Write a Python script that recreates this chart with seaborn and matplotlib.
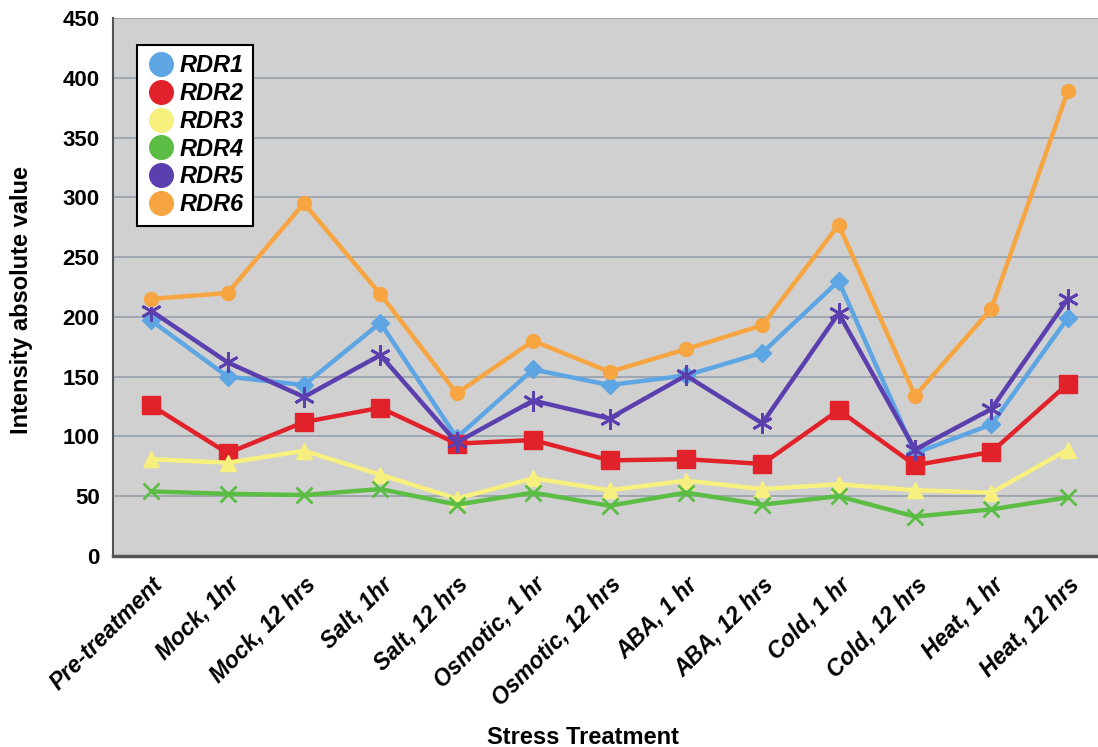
import numpy as np
import pandas as pd
import matplotlib
matplotlib.use("Agg")
import matplotlib.pyplot as plt
from matplotlib.lines import Line2D
import seaborn as sns

sns.set_style("white")
plt.rcParams['font.family'] = ['Liberation Sans', 'DejaVu Sans']
plt.rcParams['text.color'] = 'black'
plt.rcParams['axes.labelcolor'] = 'black'
plt.rcParams['xtick.color'] = 'black'
plt.rcParams['ytick.color'] = 'black'

# Data
treatments = ["Pre-treatment", "Mock, 1hr", "Mock, 12 hrs", "Salt, 1hr", "Salt, 12 hrs",
              "Osmotic, 1 hr", "Osmotic, 12 hrs", "ABA, 1 hr", "ABA, 12 hrs",
              "Cold, 1 hr", "Cold, 12 hrs", "Heat, 1 hr", "Heat, 12 hrs"]
rdr1 = [197, 150, 143, 195, 99, 156, 143, 151, 170, 230, 86, 110, 199]
rdr2 = [126, 86, 112, 124, 94, 97, 80, 81, 77, 122, 76, 87, 144]
rdr3 = [81, 78, 88, 68, 48, 65, 55, 63, 56, 60, 55, 53, 89]
rdr4 = [54, 52, 51, 56, 43, 53, 42, 53, 43, 50, 33, 39, 49]
rdr5 = [205, 162, 133, 168, 95, 130, 115, 151, 111, 203, 89, 123, 215]
rdr6 = [215, 220, 295, 219, 136, 180, 154, 173, 193, 277, 134, 207, 389]

genes = ["RDR1", "RDR2", "RDR3", "RDR4", "RDR5", "RDR6"]
values = [rdr1, rdr2, rdr3, rdr4, rdr5, rdr6]
colors = ["#5da5e3", "#e2222a", "#f7f07e", "#5cbd45", "#5b3fae", "#f7a541"]
markers = ["D", "s", "^", "x", (6, 2, 0), "o"]
msizes = [9, 13, 11, 11, 15, 10]

df = pd.DataFrame({
    "x": np.tile(np.arange(len(treatments)), len(genes)),
    "value": np.concatenate(values),
    "gene": np.repeat(genes, len(treatments)),
})

fig = plt.figure(figsize=(10.98, 7.47), dpi=100)
ax = fig.add_axes([113 / 1098, 1 - 556 / 747, (1106 - 113) / 1098, (556 - 18) / 747])
ax.set_facecolor("#d0d0d0")

for g, c, m, ms in zip(genes, colors, markers, msizes):
    sub = df[df["gene"] == g]
    sns.lineplot(data=sub, x="x", y="value", ax=ax, color=c, lw=3.2,
                 marker=m, markersize=ms, markeredgecolor=c, markerfacecolor=c,
                 mew=2 if m in ("x", (6, 2, 0)) else 1, legend=False)

ax.set_xlim(-0.5, len(treatments) - 0.5)
ax.set_ylim(0, 450)
ax.set_yticks(np.arange(0, 451, 50))
ax.yaxis.grid(True, color="#9aa4ad", lw=1.3)
ax.set_axisbelow(True)

ax.set_xticks(np.arange(len(treatments)))
ax.set_xticklabels(treatments, rotation=45, ha="right", rotation_mode="anchor",
                   fontsize=16.5, fontweight="bold", fontstyle="italic")
ax.set_xticks(np.arange(len(treatments)) - 0.5, minor=True)
ax.tick_params(axis="x", which="major", length=0, pad=12)
ax.tick_params(axis="x", which="minor", length=6, color="#555555", width=1.2)
ax.tick_params(axis="y", length=6, color="#555555", width=1.2, labelsize=16)
for t in ax.get_yticklabels():
    t.set_fontweight("bold")

for s in ["top", "right"]:
    ax.spines[s].set_visible(False)
ax.spines["left"].set_color("#555555")
ax.spines["bottom"].set_color("#555555")
ax.spines["left"].set_linewidth(1.5)
ax.spines["bottom"].set_linewidth(2.5)

ax.set_xlabel("Stress Treatment", fontsize=17, fontweight="bold")
ax.set_ylabel("Intensity absolute value", fontsize=17, fontweight="bold")
ax.xaxis.set_label_coords((583 - 113) / 993, -(737 - 556) / 538, transform=ax.transAxes)
ax.yaxis.set_label_coords(-(113 - 22) / 993, 0.5 - (300 - 287) / 538, transform=ax.transAxes)
ax.xaxis.label.set_va("center")
ax.yaxis.label.set_va("center")

handles = [Line2D([0], [0], marker="o", color="none", markerfacecolor=c,
                  markeredgecolor=c, markersize=17) for c in colors]
leg = ax.legend(handles, genes, loc="upper left",
                bbox_to_anchor=((137 - 113) / 993, 1 - (45 - 18) / 538),
                borderaxespad=0, frameon=True, fancybox=False, edgecolor="black",
                framealpha=1, handletextpad=0.2, labelspacing=0.2, borderpad=0.4,
                handlelength=1.2, prop={"size": 17, "weight": "bold", "style": "italic"})
leg.get_frame().set_linewidth(1.5)

fig.savefig("out.png", dpi=100)
